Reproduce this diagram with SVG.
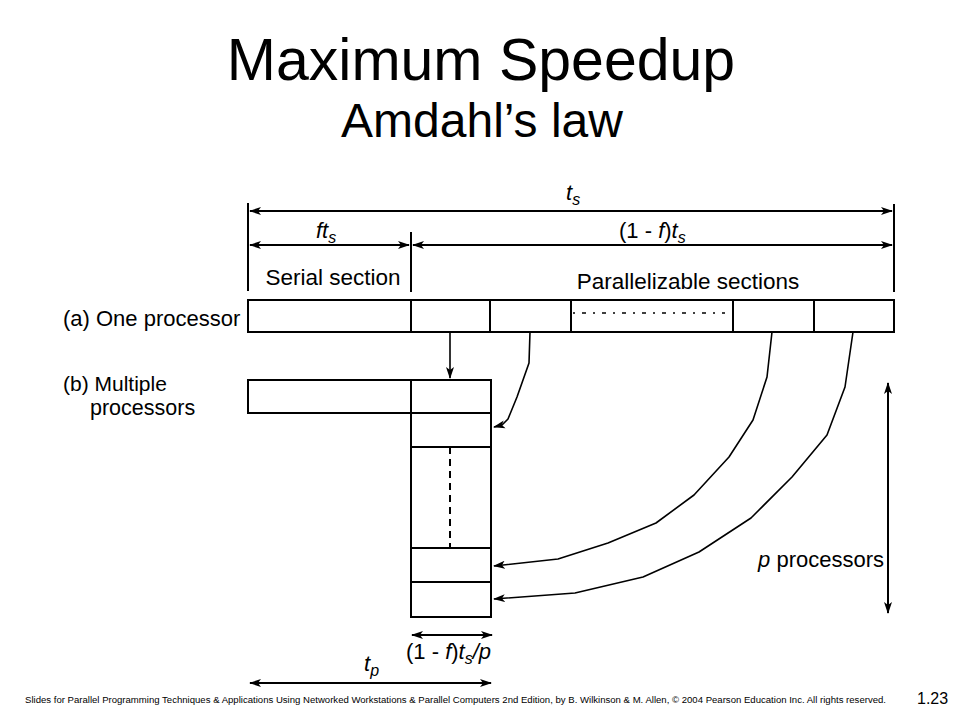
<svg xmlns="http://www.w3.org/2000/svg" width="960" height="720" viewBox="0 0 960 720">
<style>
text{font-family:"Liberation Sans",Arial,sans-serif;fill:#000}
.box{fill:#fff;stroke:#000;stroke-width:2}
.ln{fill:none;stroke:#000;stroke-width:2;stroke-linejoin:round}
.dbl{fill:none;stroke:#000;stroke-width:2;marker-start:url(#ah);marker-end:url(#ah)}
.one{fill:none;stroke:#000;stroke-width:1.6;stroke-linejoin:round;marker-end:url(#ah)}
.it{font-style:italic}
</style>
<defs>
<marker id="ah" markerUnits="userSpaceOnUse" markerWidth="12" markerHeight="10" refX="11" refY="5" orient="auto-start-reverse">
<path d="M0,1 L12,5 L0,9 L3,5 z" fill="#000"/>
</marker>
</defs>
<rect width="960" height="720" fill="#fff"/>
<g id="title">
<text x="481" y="80" font-size="59" text-anchor="middle">Maximum Speedup</text>
<text x="482" y="137" font-size="48" text-anchor="middle">Amdahl’s law</text>
</g>
<g id="labels">
<text x="63" y="326" font-size="22">(a) One processor</text>
<text x="63" y="391" font-size="21">(b) Multiple</text>
<text x="90" y="415" font-size="21.5">processors</text>
<text x="333" y="285" font-size="22.5" text-anchor="middle">Serial section</text>
<text x="688" y="289" font-size="22.5" text-anchor="middle">Parallelizable sections</text>
<text x="566" y="200" font-size="22" class="it">t<tspan font-size="16" dy="5">s</tspan></text>
<text x="316" y="238" font-size="22" class="it">ft<tspan font-size="16" dy="5">s</tspan></text>
<text x="619" y="238" font-size="22">(1 - <tspan class="it">f</tspan>)<tspan class="it">t</tspan><tspan class="it" font-size="16" dy="5">s</tspan></text>
<text x="884" y="567" font-size="22" text-anchor="end"><tspan class="it">p</tspan> processors</text>
<text x="406" y="659" font-size="22">(1 - <tspan class="it">f</tspan>)<tspan class="it">t</tspan><tspan class="it" font-size="16" dy="5">s</tspan><tspan class="it" dy="-5">/p</tspan></text>
<text x="364" y="671" font-size="22" class="it">t<tspan font-size="16" dy="5">p</tspan></text>
</g>
<g id="node-one-processor">
<rect class="box" x="248" y="300" width="646" height="32"/>
<line class="ln" x1="411" y1="300" x2="411" y2="332"/>
<line class="ln" x1="490" y1="300" x2="490" y2="332"/>
<line class="ln" x1="571" y1="300" x2="571" y2="332"/>
<line class="ln" x1="733" y1="300" x2="733" y2="332"/>
<line class="ln" x1="814" y1="300" x2="814" y2="332"/>
<line x1="573" y1="313" x2="725" y2="313" stroke="#000" stroke-width="1.6" stroke-dasharray="2 7 4 7"/>
</g>
<g id="node-multiple-processors">
<rect class="box" x="248" y="380" width="163" height="33"/>
<rect class="box" x="411" y="380" width="80" height="237"/>
<line class="ln" x1="411" y1="413" x2="491" y2="413"/>
<line class="ln" x1="411" y1="447" x2="491" y2="447"/>
<line class="ln" x1="411" y1="548" x2="491" y2="548"/>
<line class="ln" x1="411" y1="582" x2="491" y2="582"/>
<line x1="450" y1="447" x2="450" y2="548" stroke="#000" stroke-width="2" stroke-dasharray="7 5"/>
</g>
<g id="connectors">
<line class="ln" x1="248" y1="203" x2="248" y2="291"/>
<line class="ln" x1="894" y1="204" x2="894" y2="292"/>
<line class="ln" x1="411" y1="232" x2="411" y2="292"/>
<line class="dbl" x1="250" y1="211" x2="892" y2="211"/>
<line class="dbl" x1="250" y1="245" x2="409" y2="245"/>
<line class="dbl" x1="413" y1="245" x2="892" y2="245"/>
<line class="one" x1="450" y1="332" x2="450" y2="378"/>
<polyline class="one" points="530,332 529,363 517,397 508,419 502,425 494,427"/>
<polyline class="one" points="772,332 767,377 753,420 729,457 694,495 656,523 608,543 558,559 494,566"/>
<polyline class="one" points="853,332 845,387 827,435 792,477 751,518 699,552 643,577 575,593 494,599"/>
<line class="dbl" x1="888" y1="383" x2="888" y2="613"/>
<line class="dbl" x1="412" y1="635" x2="492" y2="635"/>
<line class="dbl" x1="250" y1="683" x2="491" y2="683"/>
</g>
<g id="footer">
<text x="25" y="703" font-size="8.5" textLength="861" lengthAdjust="spacingAndGlyphs">Slides for Parallel Programming Techniques &amp; Applications Using Networked Workstations &amp; Parallel Computers 2nd Edition, by B. Wilkinson &amp; M. Allen, © 2004 Pearson Education Inc. All rights reserved.</text>
<text x="917" y="704" font-size="16">1.23</text>
</g>
</svg>
